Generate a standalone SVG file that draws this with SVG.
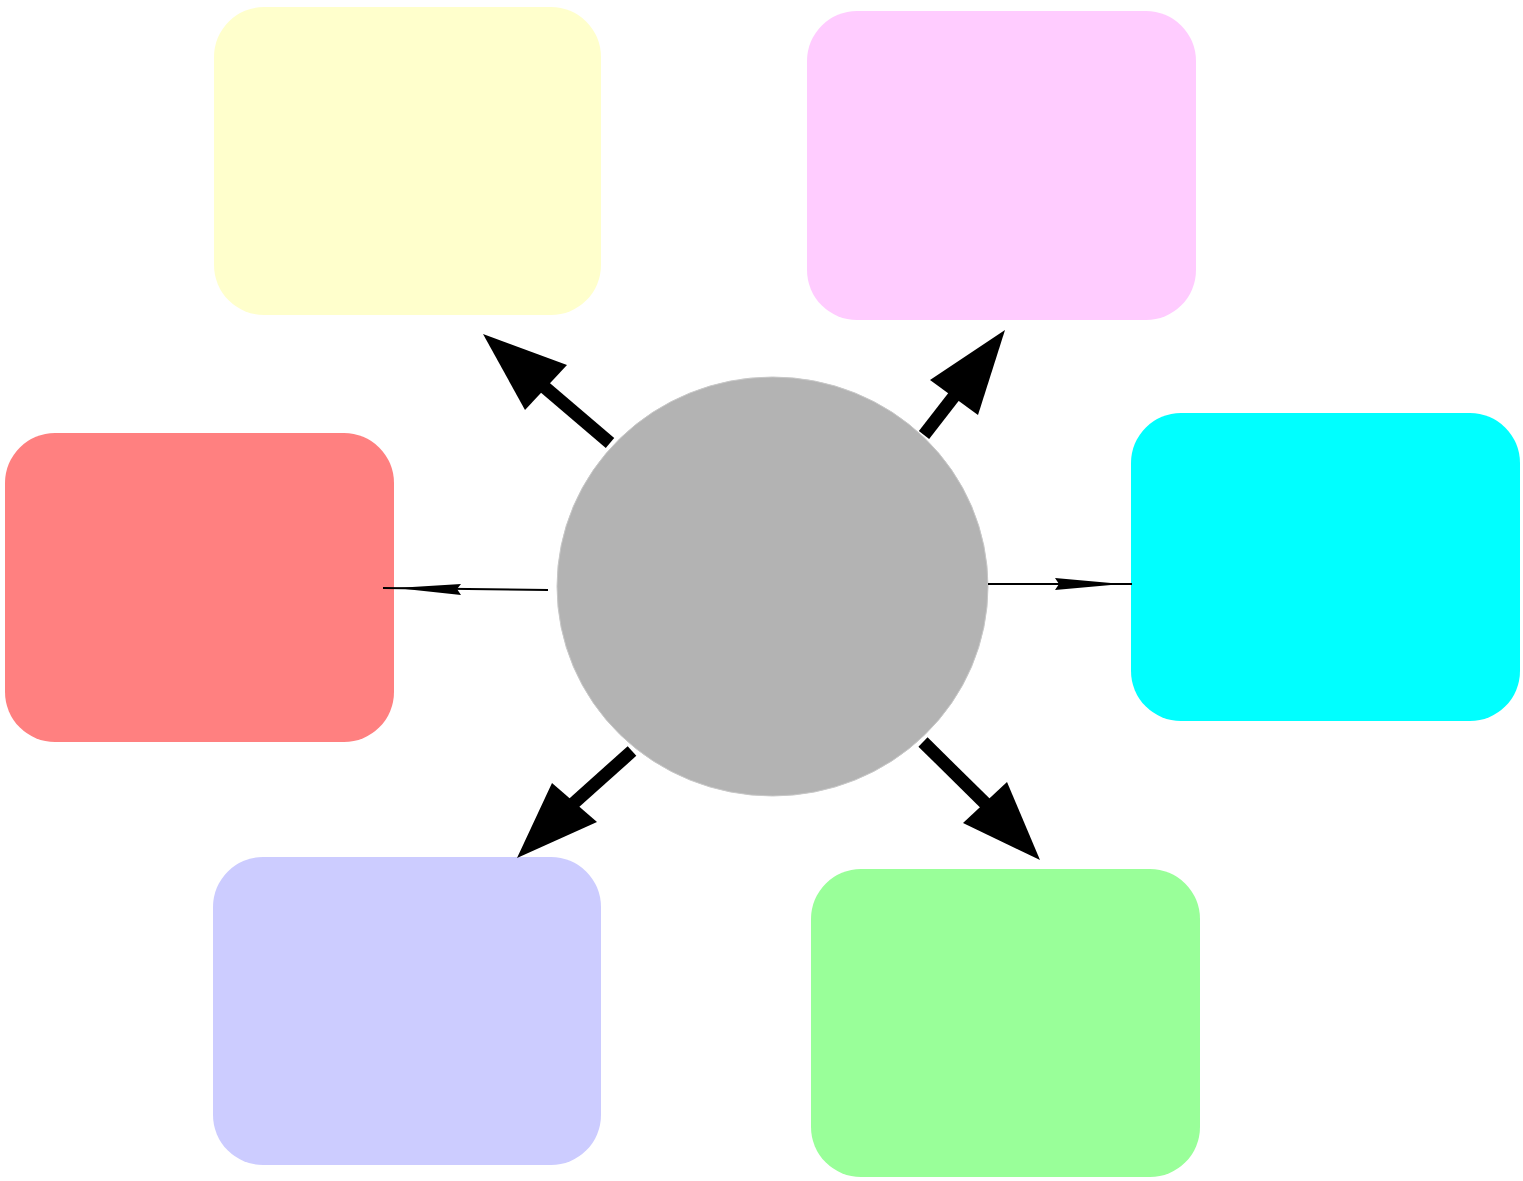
<svg xmlns="http://www.w3.org/2000/svg" width="1523" height="1181" viewBox="0 0 1523 1181">
<style>
.box{stroke:none}
.shaft{stroke:#000;stroke-width:13;fill:none}
.thin{stroke:#000;stroke-width:2;fill:none}
.head{fill:#000;stroke:none}
</style>
<rect width="1523" height="1181" fill="#fff"/>
<g id="node-yellow"><rect class="box" x="214" y="7" width="387" height="308" rx="50" fill="#ffffcc"/></g>
<g id="node-pink"><rect class="box" x="807" y="11" width="389" height="309" rx="50" fill="#ffccff"/></g>
<g id="node-red"><rect class="box" x="5" y="433" width="389" height="309" rx="50" fill="#ff8080"/></g>
<g id="node-cyan"><rect class="box" x="1131" y="413" width="389" height="308" rx="50" fill="#00ffff"/></g>
<g id="node-blue"><rect class="box" x="213" y="857" width="388" height="308" rx="50" fill="#ccccff"/></g>
<g id="node-green"><rect class="box" x="811" y="869" width="389" height="308" rx="50" fill="#99ff99"/></g>
<g id="node-center"><ellipse cx="772.5" cy="586.5" rx="215.5" ry="209.5" fill="#b3b3b3" stroke="#c8c8c8" stroke-width="1"/></g>
<g id="connectors">
<line class="shaft" x1="610" y1="443" x2="535" y2="379"/>
<polygon class="head" points="483,334 567,365 525,410"/>
<line class="shaft" x1="924" y1="435" x2="962" y2="386"/>
<polygon class="head" points="1005,330 978,415 930,380"/>
<line class="shaft" x1="632" y1="751" x2="565" y2="811"/>
<polygon class="head" points="517,858 552,783 597,822"/>
<line class="shaft" x1="923" y1="742" x2="994" y2="812"/>
<polygon class="head" points="1040,860 963,823 1007,782"/>
<line class="thin" x1="548" y1="590" x2="383" y2="588"/>
<polygon class="head" points="396,588 461,584 457,589 461,595"/>
<line class="thin" x1="988" y1="584" x2="1132" y2="584"/>
<polygon class="head" points="1122,584 1055,578 1059,584 1055,590"/>
</g>
</svg>
